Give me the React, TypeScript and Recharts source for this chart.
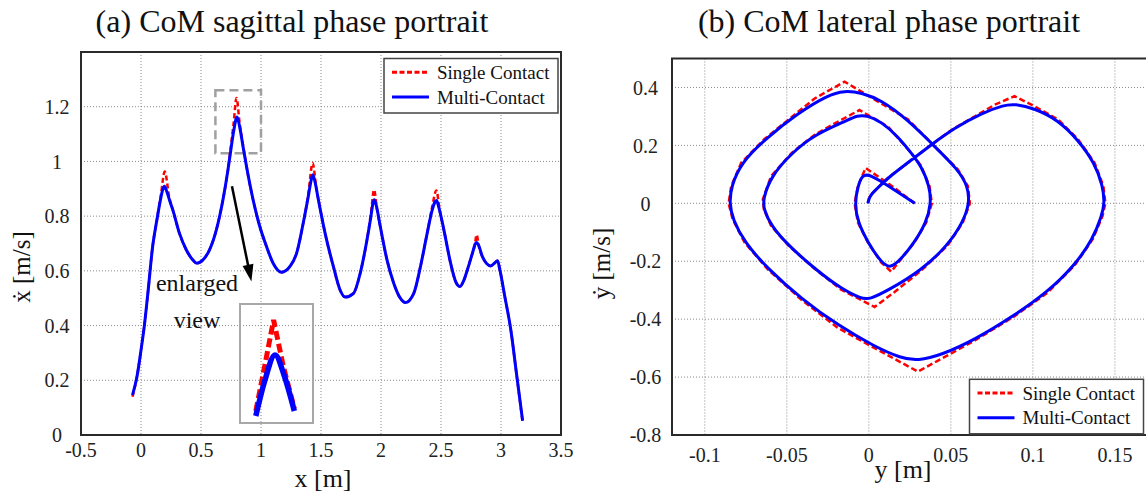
import React from 'react';
import { LineChart, Line, XAxis, YAxis, CartesianGrid, ReferenceArea, ReferenceLine } from 'recharts';

// (a) sagittal: CoM position x [m] vs. velocity [m/s]
const sagMultiX = [-0.071, -0.035, 0.0, 0.028, 0.06, 0.097, 0.13, 0.16, 0.18, 0.195, 0.215, 0.24, 0.265, 0.32, 0.377, 0.432, 0.465, 0.516, 0.571, 0.628, 0.683, 0.725, 0.748, 0.772, 0.8, 0.825, 0.852, 0.879, 0.934, 0.99, 1.046, 1.101, 1.172, 1.241, 1.297, 1.352, 1.394, 1.415, 1.431, 1.45, 1.478, 1.534, 1.603, 1.659, 1.701, 1.771, 1.827, 1.883, 1.916, 1.932, 1.944, 1.96, 1.994, 2.05, 2.106, 2.161, 2.203, 2.273, 2.329, 2.385, 2.427, 2.45, 2.463, 2.48, 2.524, 2.58, 2.622, 2.658, 2.69, 2.72, 2.762, 2.785, 2.797, 2.812, 2.845, 2.88, 2.915, 2.945, 2.971, 2.99, 3.03, 3.082, 3.13, 3.18];
const sagMultiV = [0.146, 0.21, 0.31, 0.4, 0.53, 0.689, 0.78, 0.855, 0.895, 0.909, 0.89, 0.855, 0.823, 0.738, 0.677, 0.64, 0.628, 0.64, 0.677, 0.75, 0.86, 0.97, 1.04, 1.11, 1.162, 1.12, 1.05, 0.982, 0.86, 0.762, 0.689, 0.628, 0.595, 0.616, 0.665, 0.775, 0.872, 0.925, 0.951, 0.925, 0.86, 0.738, 0.616, 0.53, 0.504, 0.518, 0.592, 0.713, 0.799, 0.845, 0.86, 0.84, 0.762, 0.64, 0.555, 0.5, 0.484, 0.518, 0.616, 0.738, 0.823, 0.852, 0.857, 0.835, 0.75, 0.628, 0.561, 0.543, 0.565, 0.604, 0.665, 0.698, 0.704, 0.695, 0.652, 0.627, 0.618, 0.628, 0.637, 0.605, 0.51, 0.384, 0.221, 0.052];
const sagSingleX = [-0.071, -0.035, 0.0, 0.028, 0.06, 0.097, 0.13, 0.165, 0.198, 0.235, 0.265, 0.32, 0.377, 0.432, 0.465, 0.516, 0.571, 0.628, 0.683, 0.725, 0.748, 0.772, 0.796, 0.822, 0.852, 0.879, 0.934, 0.99, 1.046, 1.101, 1.172, 1.241, 1.297, 1.352, 1.394, 1.43, 1.462, 1.478, 1.534, 1.603, 1.659, 1.701, 1.771, 1.827, 1.883, 1.916, 1.942, 1.968, 1.994, 2.05, 2.106, 2.161, 2.203, 2.273, 2.329, 2.385, 2.427, 2.461, 2.49, 2.524, 2.58, 2.622, 2.658, 2.69, 2.72, 2.762, 2.78, 2.797, 2.815, 2.845, 2.88, 2.915, 2.945, 2.971, 2.99, 3.03, 3.082, 3.13, 3.18];
const sagSingleV = [0.14, 0.21, 0.31, 0.4, 0.53, 0.689, 0.78, 0.875, 0.963, 0.87, 0.823, 0.738, 0.677, 0.64, 0.628, 0.64, 0.677, 0.75, 0.86, 0.97, 1.05, 1.14, 1.232, 1.14, 1.055, 0.982, 0.86, 0.762, 0.689, 0.628, 0.595, 0.616, 0.665, 0.775, 0.88, 0.994, 0.9, 0.862, 0.738, 0.616, 0.53, 0.504, 0.518, 0.592, 0.713, 0.81, 0.896, 0.82, 0.762, 0.64, 0.555, 0.5, 0.484, 0.518, 0.616, 0.738, 0.835, 0.894, 0.82, 0.75, 0.628, 0.561, 0.543, 0.565, 0.604, 0.665, 0.69, 0.732, 0.69, 0.652, 0.627, 0.618, 0.628, 0.637, 0.605, 0.51, 0.384, 0.221, 0.049];

// (b) lateral: CoM position y [m] vs. velocity [m/s], in time order
const latMultiY = [0.028, 0.014, 0.0, -0.004, -0.0067, -0.0087, -0.0067, -0.0006, 0.0075, 0.0132, 0.0197, 0.0278, 0.035, 0.038, 0.037, 0.032, 0.0258, 0.0177, 0.0075, -0.0006, -0.0067, -0.0148, -0.033, -0.047, -0.0596, -0.0646, -0.064, -0.0596, -0.049, -0.033, -0.0169, -0.0047, 0.0004, 0.0116, 0.0319, 0.048, 0.0573, 0.0614, 0.0604, 0.0543, 0.04, 0.0238, 0.0075, -0.0047, -0.0148, -0.025, -0.0433, -0.0636, -0.0778, -0.0839, -0.085, -0.083, -0.0758, -0.0616, -0.0413, -0.0189, 0.0035, 0.0197, 0.0299, 0.0441, 0.0644, 0.0888, 0.109, 0.1254, 0.1366, 0.142, 0.1437, 0.1427, 0.1376, 0.1274, 0.1152, 0.101, 0.0888, 0.0827, 0.0685, 0.0522, 0.038, 0.0238, 0.0116, 0.0045, 0.0004, -0.0006];
const latMultiV = [0.0, 0.053, 0.102, 0.097, 0.059, 0.0, -0.066, -0.135, -0.204, -0.226, -0.192, -0.135, -0.066, 0.0, 0.059, 0.128, 0.174, 0.231, 0.282, 0.302, 0.305, 0.282, 0.237, 0.174, 0.094, 0.014, -0.021, -0.078, -0.146, -0.226, -0.295, -0.329, -0.332, -0.301, -0.232, -0.146, -0.066, 0.0, 0.059, 0.117, 0.197, 0.288, 0.357, 0.382, 0.389, 0.374, 0.311, 0.22, 0.14, 0.059, 0.0, -0.055, -0.135, -0.226, -0.329, -0.421, -0.495, -0.535, -0.544, -0.524, -0.472, -0.387, -0.306, -0.215, -0.123, -0.043, 0.0, 0.059, 0.14, 0.22, 0.288, 0.328, 0.343, 0.34, 0.311, 0.26, 0.202, 0.14, 0.088, 0.048, 0.025, 0.0];
const latSingleY = [0.028, 0.014, -0.002, -0.0067, -0.0087, -0.0067, -0.0006, 0.0075, 0.0136, 0.0197, 0.0278, 0.035, 0.0384, 0.037, 0.032, 0.0258, 0.0116, -0.0057, -0.0169, -0.033, -0.047, -0.0596, -0.0646, -0.064, -0.0596, -0.049, -0.033, -0.0169, 0.0035, 0.0157, 0.0319, 0.048, 0.0573, 0.0616, 0.0604, 0.0543, 0.04, 0.0238, -0.0148, -0.033, -0.0433, -0.0636, -0.0778, -0.0839, -0.0855, -0.083, -0.0758, -0.0616, -0.0413, -0.0189, 0.0035, 0.0299, 0.0522, 0.0644, 0.0888, 0.109, 0.1254, 0.1366, 0.1425, 0.1442, 0.143, 0.1376, 0.1274, 0.1152, 0.101, 0.0888, 0.0766, 0.0685, 0.0522, 0.038, 0.0238, 0.0116, 0.0045, 0.0004, -0.0006];
const latSingleV = [0.0, 0.06, 0.122, 0.059, 0.0, -0.066, -0.135, -0.204, -0.236, -0.192, -0.135, -0.066, 0.0, 0.059, 0.128, 0.174, 0.265, 0.322, 0.288, 0.237, 0.174, 0.094, 0.014, -0.021, -0.078, -0.146, -0.226, -0.298, -0.358, -0.306, -0.232, -0.146, -0.066, 0.0, 0.059, 0.117, 0.197, 0.29, 0.42, 0.362, 0.315, 0.222, 0.14, 0.059, 0.0, -0.055, -0.135, -0.228, -0.332, -0.43, -0.5, -0.581, -0.512, -0.474, -0.39, -0.308, -0.215, -0.123, -0.043, 0.0, 0.059, 0.14, 0.222, 0.29, 0.335, 0.37, 0.34, 0.313, 0.26, 0.202, 0.14, 0.088, 0.048, 0.025, 0.0];

const sagXTicks = [-0.5, 0, 0.5, 1, 1.5, 2, 2.5, 3, 3.5];
const sagVTicks = [0, 0.2, 0.4, 0.6, 0.8, 1, 1.2];
const latYTicks = [-0.1, -0.05, 0, 0.05, 0.1, 0.15];
const latVTicks = [-0.8, -0.6, -0.4, -0.2, 0, 0.2, 0.4];

const FONT = '"Liberation Serif", "DejaVu Serif", serif';
const RED = '#ff0000';
const BLUE = '#0000ff';
const GRID = '#8a8a8a';
const FRAME = '#2a2a2a';

const zip = (xs: number[], vs: number[]) =>
  xs.slice(0, Math.min(xs.length, vs.length)).map((x, i) => ({ x, v: vs[i] }));

const sagMulti = zip(sagMultiX, sagMultiV);
const sagSingle = zip(sagSingleX, sagSingleV);
const latMulti = zip(latMultiY, latMultiV);
const latSingle = zip(latSingleY, latSingleV);

// the piece of the tallest peak shown in the inset
const inZoom = (p: { x: number }) => p.x > 0.745 && p.x < 0.856;

const txt = (size: number) => ({ fontFamily: FONT, fontSize: size });

const makeYTick = (cx: number) => (props: any) => (
  <text x={cx} y={props.y} dy="0.36em" textAnchor="middle" style={txt(20)} fill="#222">
    {props.payload.value}
  </text>
);

const XTick = (props: any) => (
  <text x={props.x} y={props.y} dy="0.72em" textAnchor="middle" style={txt(20)} fill="#222">
    {props.payload.value}
  </text>
);

const Arrow = (p: any) => {
  const { x1, y1, x2, y2 } = p;
  const a = Math.atan2(y2 - y1, x2 - x1);
  const len = 17;
  const half = 5.5;
  const bx = x2 - len * Math.cos(a);
  const by = y2 - len * Math.sin(a);
  const pts = `${x2},${y2} ${bx + half * Math.sin(a)},${by - half * Math.cos(a)} ${bx - half * Math.sin(a)},${by + half * Math.cos(a)}`;
  return (
    <g>
      <line x1={x1} y1={y1} x2={bx + 3 * Math.cos(a)} y2={by + 3 * Math.sin(a)} stroke="#000" strokeWidth={2.5} />
      <polygon points={pts} fill="#000" />
    </g>
  );
};

function LegendBox({ x, y }: { x: number; y: number }) {
  return (
    <g style={txt(19)} fill="#111">
      <rect x={x} y={y} width={174} height={54.5} fill="#fff" stroke="#444" strokeWidth={1.5} />
      <line x1={x + 8} x2={x + 45} y1={y + 13.8} y2={y + 13.8} stroke={RED} strokeWidth={3} strokeDasharray="5 2.5" />
      <text x={x + 53} y={y + 20.5}>Single Contact</text>
      <line x1={x + 8} x2={x + 45} y1={y + 38.4} y2={y + 38.4} stroke={BLUE} strokeWidth={3} />
      <text x={x + 53} y={y + 45}>Multi-Contact</text>
    </g>
  );
}

export default function App() {
  return (
    <div style={{ position: 'absolute', left: 0, top: 0, width: 1146, height: 495, overflow: 'hidden', background: '#fff', fontFamily: FONT }}>
      {/* (a) sagittal */}
      <div style={{ position: 'absolute', left: 0, top: 0 }}>
        <LineChart width={580} height={495} margin={{ top: 52, right: 19, bottom: 30, left: 0 }}>
          <CartesianGrid stroke={GRID} strokeDasharray="1 2" />
          <XAxis
            type="number"
            dataKey="x"
            domain={[-0.5, 3.5]}
            ticks={sagXTicks}
            interval={0}
            allowDataOverflow
            axisLine={false}
            tickLine={false}
            tickSize={0}
            tickMargin={8}
            height={30}
            tick={XTick}
          />
          <YAxis
            type="number"
            dataKey="v"
            domain={[0, 1.4]}
            ticks={sagVTicks}
            interval={0}
            allowDataOverflow
            axisLine={false}
            tickLine={false}
            width={81}
            tick={makeYTick(57)}
          />
          <ReferenceArea x1={-0.5} x2={3.5} y1={0} y2={1.4} fill="none" stroke={FRAME} strokeWidth={2} ifOverflow="visible" />
          <ReferenceArea x1={0.62} x2={1.0} y1={1.03} y2={1.26} fill="none" stroke="#a0a0a0" strokeWidth={2.5} strokeDasharray="9 5" />
          <ReferenceLine segment={[{ x: 0.758, y: 0.909 }, { x: 0.92, y: 0.561 }]} stroke="#000" shape={Arrow} />
          <Line data={sagSingle} dataKey="v" type="monotone" stroke={RED} strokeWidth={2.5} strokeDasharray="5 3" dot={false} isAnimationActive={false} />
          <Line data={sagMulti} dataKey="v" type="monotone" stroke={BLUE} strokeWidth={3} dot={false} isAnimationActive={false} />
        </LineChart>
      </div>

      {/* enlarged view of the tallest peak */}
      <div style={{ position: 'absolute', left: 238.5, top: 303, width: 75, height: 121, boxSizing: 'border-box', border: '2.5px solid #a8a8a8' }}>
        <LineChart width={70} height={116} margin={{ top: 0, right: 0, bottom: 0, left: 0 }}>
          <XAxis type="number" dataKey="x" domain={[0.708, 0.897]} allowDataOverflow hide />
          <YAxis type="number" dataKey="v" domain={[1.03, 1.262]} allowDataOverflow hide width={0} />
          <Line data={sagSingle.filter(inZoom)} dataKey="v" type="linear" stroke={RED} strokeWidth={5} strokeDasharray="9 4" dot={false} isAnimationActive={false} />
          <Line data={sagMulti.filter(inZoom)} dataKey="v" type="monotone" stroke={BLUE} strokeWidth={5.5} dot={false} isAnimationActive={false} />
        </LineChart>
      </div>

      {/* (b) lateral */}
      <div style={{ position: 'absolute', left: 580, top: 0 }}>
        <LineChart width={575} height={495} margin={{ top: 58.5, right: 4, bottom: 30, left: 0 }}>
          <CartesianGrid stroke={GRID} strokeDasharray="1 2" />
          <XAxis
            type="number"
            dataKey="x"
            domain={[-0.12, 0.172]}
            ticks={latYTicks}
            interval={0}
            allowDataOverflow
            axisLine={false}
            tickLine={false}
            tickSize={0}
            tickMargin={13}
            height={30}
            tick={XTick}
          />
          <YAxis
            type="number"
            dataKey="v"
            domain={[-0.8, 0.5]}
            ticks={latVTicks}
            interval={0}
            allowDataOverflow
            axisLine={false}
            tickLine={false}
            width={92}
            tick={makeYTick(65.5)}
          />
          <ReferenceArea x1={-0.12} x2={0.172} y1={-0.8} y2={0.5} fill="none" stroke={FRAME} strokeWidth={2} ifOverflow="visible" />
          <Line data={latSingle} dataKey="v" type="linear" stroke={RED} strokeWidth={2.5} strokeDasharray="6 3" dot={false} isAnimationActive={false} />
          <Line data={latMulti} dataKey="v" type="basis" stroke={BLUE} strokeWidth={3} dot={false} isAnimationActive={false} />
        </LineChart>
      </div>

      {/* titles, axis names, notes and legends */}
      <svg width={1146} height={495} style={{ position: 'absolute', left: 0, top: 0, pointerEvents: 'none' }}>
        <g fill="#111">
          <text x={292} y={32} style={txt(32)} textAnchor="middle">(a) CoM sagittal phase portrait</text>
          <text x={889} y={32} style={txt(32)} textAnchor="middle">(b) CoM lateral phase portrait</text>
          <text x={323} y={486.5} style={txt(26)} textAnchor="middle">x [m]</text>
          <text x={903} y={478} style={txt(26)} textAnchor="middle">y [m]</text>
          <text transform="translate(30,267) rotate(-90)" style={txt(25)} textAnchor="middle">ẋ [m/s]</text>
          <text transform="translate(609.5,263.5) rotate(-90)" style={txt(25)} textAnchor="middle">ẏ [m/s]</text>
          <text x={197} y={291} style={txt(24)} textAnchor="middle">enlarged</text>
          <text x={197} y={328} style={txt(24)} textAnchor="middle">view</text>
        </g>
        <LegendBox x={384} y={58.5} />
        <LegendBox x={969.5} y={379.3} />
      </svg>
    </div>
  );
}
